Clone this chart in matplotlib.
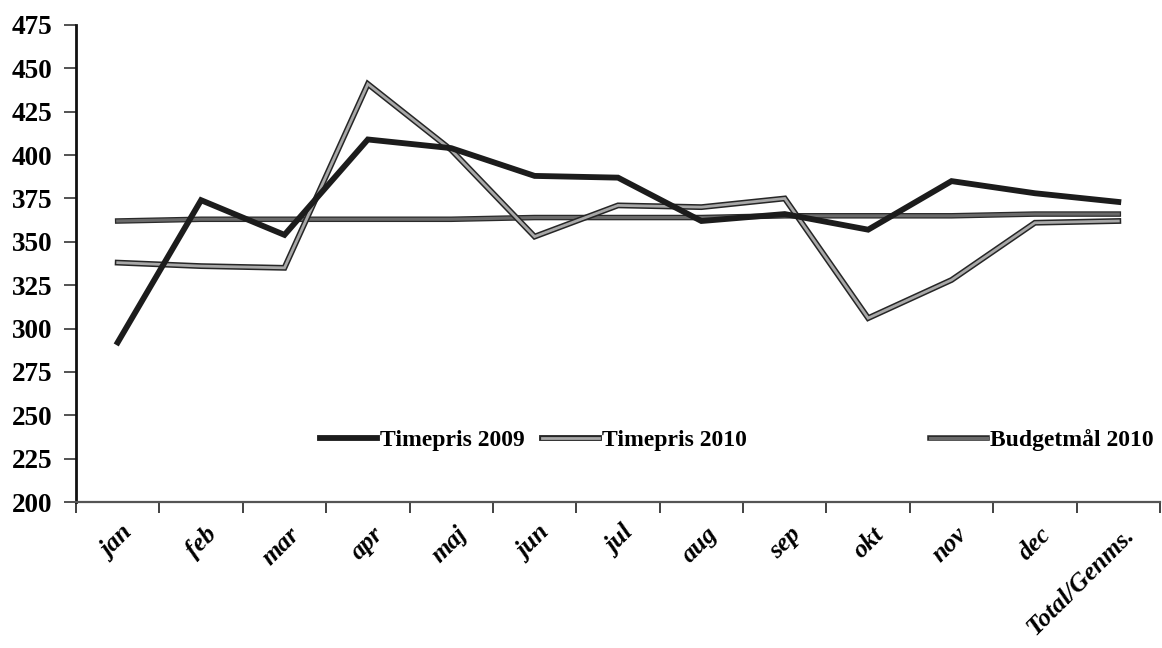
import matplotlib
matplotlib.use("Agg")
import matplotlib.pyplot as plt
import matplotlib.patheffects as pe
from matplotlib.lines import Line2D
from matplotlib.transforms import ScaledTranslation
import numpy as np

categories = ["jan", "feb", "mar", "apr", "maj", "jun", "jul", "aug", "sep",
              "okt", "nov", "dec", "Total/Genms."]
timepris_2009 = [292, 374, 354, 409, 404, 388, 387, 362, 366, 357, 385, 378, 373]
timepris_2010 = [338, 336, 335, 441, 403, 353, 371, 370, 375, 306, 328, 361, 362]
budget_2010 = [362, 363, 363, 363, 363, 364, 364, 364, 365, 365, 365, 366, 366]
yticks = [200, 225, 250, 275, 300, 325, 350, 375, 400, 425, 450, 475]
series_names = ["Timepris 2009", "Timepris 2010", "Budgetmål 2010"]

FONT = "Liberation Serif"

fig = plt.figure(figsize=(11.62, 6.48), dpi=100)
ax = fig.add_axes([76 / 1162, 1 - 502 / 648, (1160 - 76) / 1162, (502 - 25) / 648])

x = np.arange(len(categories))

l09, = ax.plot(x, timepris_2009, color="#1c1c1c", lw=4.2, solid_joinstyle="miter", zorder=4)
l10, = ax.plot(x, timepris_2010, color="#a8a8a8", lw=2.0, solid_joinstyle="miter", zorder=3,
               path_effects=[pe.Stroke(linewidth=4.2, foreground="#262626"), pe.Normal()])
lb, = ax.plot(x, budget_2010, color="#6a6a6a", lw=2.2, zorder=2,
              path_effects=[pe.Stroke(linewidth=4.0, foreground="#2a2a2a"), pe.Normal()])

ax.set_xlim(-0.5, len(categories) - 0.5)
ax.set_ylim(200, 475)
ax.set_yticks(yticks)
ax.set_yticklabels([str(v) for v in yticks], fontfamily=FONT, fontweight="bold", fontsize=19.5)

# major ticks at category boundaries, labels at centers
ax.set_xticks(np.arange(len(categories) + 1) - 0.5)
ax.set_xticklabels([])
ax.set_xticks(x, minor=True)
ax.set_xticklabels(categories, minor=True, rotation=45, ha="right", va="top",
                   rotation_mode="anchor", fontfamily=FONT, fontweight="bold",
                   fontstyle="italic", fontsize=18.5)
ax.tick_params(axis="x", which="minor", length=0, pad=15)
ax.tick_params(axis="x", which="major", length=8, width=1.3, color="#333333", direction="out")
ax.tick_params(axis="y", length=9, width=1.3, color="#444444", direction="out", pad=8)
off = ScaledTranslation(4 / 100, 0, fig.dpi_scale_trans)
for lab in ax.get_xticklabels(minor=True):
    lab.set_transform(lab.get_transform() + off)

for s in ["top", "right"]:
    ax.spines[s].set_visible(False)
ax.spines["left"].set_linewidth(2.0)
ax.spines["left"].set_color("#111111")
ax.spines["bottom"].set_linewidth(1.6)
ax.spines["bottom"].set_color("#555555")

# legend entries placed individually like the original
handles = [
    Line2D([], [], color="#1c1c1c", lw=4.2),
    Line2D([], [], color="#a8a8a8", lw=2.0,
           path_effects=[pe.Stroke(linewidth=4.2, foreground="#262626"), pe.Normal()]),
    Line2D([], [], color="#6a6a6a", lw=2.2,
           path_effects=[pe.Stroke(linewidth=4.0, foreground="#2a2a2a"), pe.Normal()]),
]
xpos = [320, 542, 930]
for h, name, xp in zip(handles, series_names, xpos):
    leg = fig.legend([h], [name], loc="center left",
                     bbox_to_anchor=(xp / 1162, 1 - 440 / 648),
                     frameon=False, borderpad=0, borderaxespad=0,
                     handlelength=2.4, handletextpad=0.15,
                     prop={"family": FONT, "weight": "bold", "size": 17})

fig.savefig("out.png", dpi=100, facecolor="white")
